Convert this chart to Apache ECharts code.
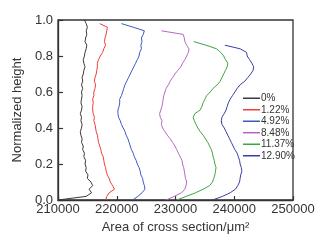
<!DOCTYPE html>
<html>
<head>
<meta charset="utf-8">
<script src="https://cdn.jsdelivr.net/npm/echarts@6/dist/echarts.min.js"></script>
<style>
  html, body { margin: 0; padding: 0; background: #fff; }
  #chart { width: 332px; height: 242px; }
</style>
</head>
<body>
<div id="chart"></div>
<script>
// normalized height levels shared by all curves
const heights = [0, 0.02, 0.04, 0.06, 0.08, 0.1, 0.12, 0.14, 0.16, 0.18, 0.2,
  0.22, 0.24, 0.26, 0.28, 0.3, 0.32, 0.34, 0.36, 0.38, 0.4,
  0.42, 0.44, 0.46, 0.48, 0.5, 0.52, 0.54, 0.56, 0.58, 0.6,
  0.62, 0.64, 0.66, 0.68, 0.7, 0.72, 0.74, 0.76, 0.78, 0.8,
  0.82, 0.84, 0.86, 0.88, 0.9, 0.92, 0.94, 0.96, 0.98, 1.0];

const seriesNames = ["0%", "1.22%", "4.92%", "8.48%", "11.37%", "12.90%"];
const seriesColors = ["#3a3a3a", "#f03c3c", "#3a5ac8", "#b866c4", "#3fa345", "#3a3fa0"];

// area of cross section at each height (curves stop at their top height)
const area0 = [210000, 214800, 215700, 215300, 215900, 215600, 215000, 215100, 214700, 214800, 214600,
  214700, 214400, 214500, 214200, 214300, 214000, 214100, 213900, 213800, 214000,
  214100, 213900, 214000, 213800, 214000, 214100, 213900, 214000, 214100, 214000,
  214200, 214000, 214200, 214100, 214300, 214400, 214600, 214400, 214300, 214500,
  214600, 214800, 214900, 214600, 214700, 214900, 214800, 215000, 214800, 214500];
const area1 = [218100, 218300, 218700, 219600, 219300, 218900, 218700, 218400, 218200, 218100, 217900,
  217800, 217700, 217400, 217300, 217100, 216900, 216800, 216700, 216500, 216400,
  216300, 216100, 216200, 216000, 215900, 215900, 216000, 215900, 216100, 216100,
  216300, 216400, 216200, 216300, 216500, 216600, 216700, 216700, 216900, 217200,
  217600, 217800, 218100, 217900, 218000, 218200, 218300, 218400, 217100];
const area2 = [222700, 223600, 224300, 224800, 224700, 224500, 224400, 224100, 224000, 223800, 223500,
  223300, 223000, 222800, 222500, 222300, 222100, 221900, 221600, 221400, 221100,
  220800, 220600, 220300, 220200, 220200, 220400, 220500, 220500, 220800, 221000,
  221200, 221400, 221700, 222000, 222300, 222600, 222900, 223200, 223500, 223800,
  223900, 224200, 224100, 224300, 224200, 224500, 224700, 222800, 220800];
const area3 = [228400, 229800, 231000, 231600, 231800, 231900, 231700, 231600, 231500, 231400, 231200,
  231100, 230800, 230500, 230200, 229900, 229500, 229100, 228600, 228200, 227800,
  227600, 227700, 227400, 227300, 227500, 227700, 227800, 227900, 228000, 228200,
  228400, 228800, 229100, 229500, 229900, 230400, 230900, 231200, 231600, 231900,
  232200, 232300, 231900, 231600, 231500, 231300, 227600];
const area4 = [230200, 231800, 233400, 234700, 235800, 236300, 236500, 236700, 236800, 236900, 236700,
  236600, 236400, 236300, 236100, 235800, 235500, 235100, 234700, 234200, 233800,
  233500, 233200, 233000, 233300, 234200, 234500, 234700, 235000, 235300, 235900,
  236400, 237100, 237600, 237900, 238200, 238500, 238800, 238900, 238500, 238200,
  237700, 237000, 235200, 233100];
const area5 = [236300, 238000, 239300, 240200, 240600, 240900, 241000, 241100, 241300, 241200, 241000,
  240900, 240700, 240500, 240100, 239800, 239500, 239200, 238900, 238600, 238300,
  237900, 237800, 237900, 238300, 238600, 238800, 239000, 239300, 239700, 240100,
  240500, 241000, 241800, 242300, 242800, 243200, 243300, 243000, 242600, 242200,
  242100, 241000, 238400];
const areas = [area0, area1, area2, area3, area4, area5];

const xTicks = [210000, 220000, 230000, 240000, 250000];
const yTicks = [0, 0.2, 0.4, 0.6, 0.8, 1.0];

const chart = echarts.init(document.getElementById("chart"));

const axisColor = "#333";
const font = "Liberation Sans, Arial, sans-serif";

const option = {
  animation: false,
  grid: { left: 58, top: 20, width: 235, height: 180, show: true, borderColor: axisColor, borderWidth: 1.3 },
  legend: {
    orient: "vertical",
    left: 238,
    top: 88,
    icon: "rect",
    itemWidth: 17,
    itemHeight: 1.5,
    itemGap: 1,
    textStyle: { fontFamily: font, fontSize: 10, color: "#333", padding: [0, 0, 0, -4], lineHeight: 10.5 },
    data: seriesNames,
  },
  xAxis: {
    type: "value",
    min: xTicks[0],
    max: xTicks[xTicks.length - 1],
    interval: 10000,
    name: "Area of cross section/μm²",
    nameLocation: "middle",
    nameGap: 21,
    nameTextStyle: { fontFamily: font, fontSize: 13, color: "#333" },
    axisLine: { lineStyle: { color: axisColor, width: 1.3 } },
    axisTick: { inside: true, length: 4, lineStyle: { color: axisColor, width: 1.2 } },
    axisLabel: { fontFamily: font, fontSize: 13, color: "#333", margin: 3, formatter: (v) => String(v) },
    splitLine: { show: false },
  },
  yAxis: {
    type: "value",
    min: yTicks[0],
    max: yTicks[yTicks.length - 1],
    interval: 0.2,
    name: "Normalized height",
    nameLocation: "middle",
    nameGap: 27,
    nameTextStyle: { fontFamily: font, fontSize: 13, color: "#333" },
    axisLine: { lineStyle: { color: axisColor, width: 1.3 } },
    axisTick: { inside: true, length: 5, lineStyle: { color: axisColor, width: 1.2 } },
    axisLabel: { fontFamily: font, fontSize: 13, color: "#333", margin: 5, formatter: (v) => v.toFixed(1) },
    splitLine: { show: false },
  },
  series: areas.map((vals, i) => ({
    name: seriesNames[i],
    type: "line",
    symbol: "none",
    color: seriesColors[i],
    lineStyle: { width: 1, color: seriesColors[i] },
    data: vals.map((v, k) => [v, heights[k]]),
  })),
};

chart.setOption(option);
</script>
</body>
</html>
